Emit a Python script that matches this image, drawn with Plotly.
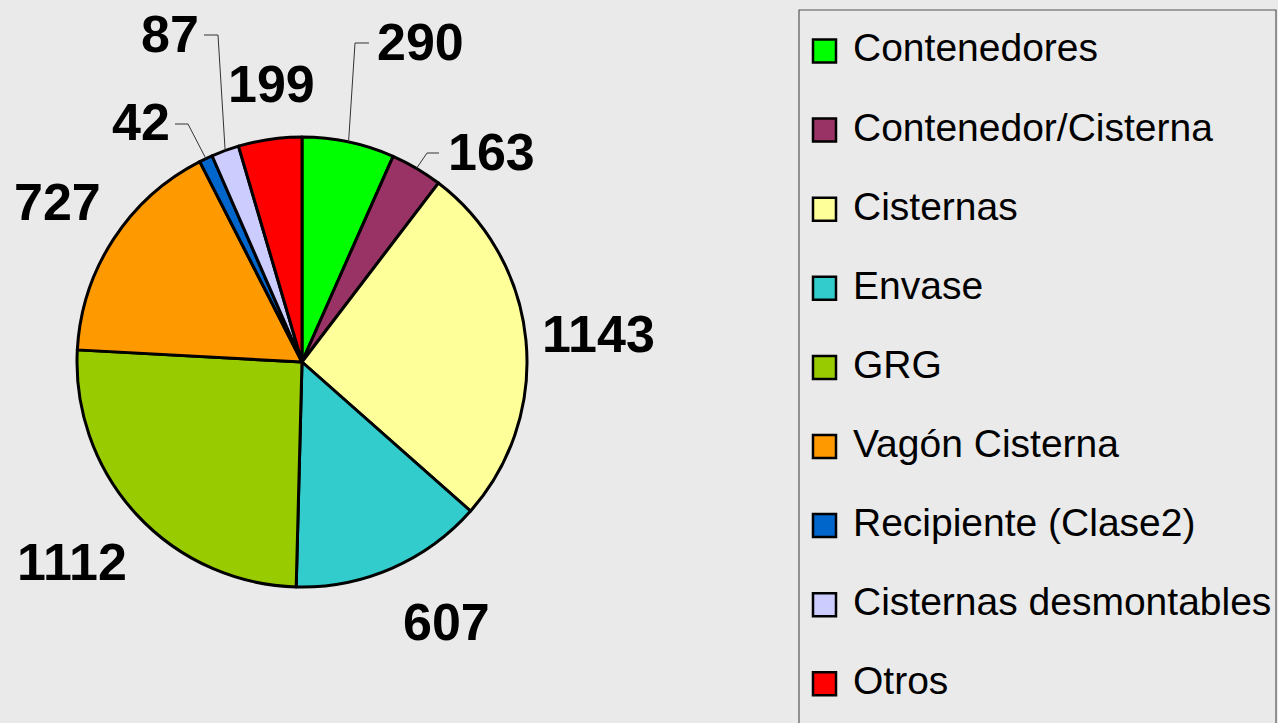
import plotly.graph_objects as go
import math

# ---- data ----
categories = ["Contenedores", "Contenedor/Cisterna", "Cisternas", "Envase", "GRG",
              "Vagón Cisterna", "Recipiente (Clase2)", "Cisternas desmontables", "Otros"]
values = [290, 163, 1143, 607, 1112, 727, 42, 87, 199]
colors = ["#00ff00", "#993366", "#ffff99", "#33cccc", "#99cc00",
          "#ff9900", "#0066cc", "#ccccff", "#ff0000"]

# ---- layout constants (pixels) ----
W, H = 1278, 723
BG = "#eaeaea"
CX, CY, R = 302, 362, 225

# label centres (pixels) for each value label
label_pos = [(420, 42), (491, 152), (598, 334), (446, 622), (72, 562),
             (57, 202), (141, 122), (170, 34), (271, 84)]
# leader bend/end points (pixels) for labels that have a leader line
leaders = {
    0: [(355, 43), (369, 43)],
    1: [(427, 153), (439, 153)],
    6: [(188, 124), (175, 124)],
    7: [(218, 35), (204, 35)],
}


def px(x):
    return x / W


def py(y):
    return 1 - y / H


fig = go.Figure()
fig.add_trace(go.Pie(
    labels=categories, values=values, sort=False, direction="clockwise", rotation=0,
    marker=dict(colors=colors, line=dict(color="#000000", width=3)),
    textinfo="none", hoverinfo="label+value", showlegend=False,
    domain=dict(x=[px(CX - R), px(CX + R)], y=[py(CY + R), py(CY - R)]),
))

shapes = []
annotations = []

# value labels
total = sum(values)
cum = 0
for i, v in enumerate(values):
    mid = (cum + v / 2) / total * 2 * math.pi
    cum += v
    lx, ly = label_pos[i]
    annotations.append(dict(
        x=px(lx), y=py(ly), xref="paper", yref="paper", text=f"<b>{v}</b>",
        showarrow=False, xanchor="center", yanchor="middle",
        font=dict(family="Liberation Sans, Arial, sans-serif", size=52, color="#000000"),
    ))
    if i in leaders:
        ex = CX + R * math.sin(mid)
        ey = CY - R * math.cos(mid)
        pts = [(ex, ey)] + leaders[i]
        path = "M " + " L ".join(f"{px(a):.5f},{py(b):.5f}" for a, b in pts)
        shapes.append(dict(type="path", xref="paper", yref="paper", path=path,
                           line=dict(color="#333333", width=1)))

# legend box
shapes.append(dict(type="rect", xref="paper", yref="paper",
                   x0=px(799), x1=px(1276), y0=py(740), y1=py(10),
                   line=dict(color="#555555", width=1.2), fillcolor="rgba(0,0,0,0)"))

# legend entries
for i, (cat, col) in enumerate(zip(categories, colors)):
    cy = 51 + i * 79.1
    shapes.append(dict(type="rect", xref="paper", yref="paper",
                       x0=px(813), x1=px(836), y0=py(cy + 11.5), y1=py(cy - 11.5),
                       fillcolor=col, line=dict(color="#000000", width=2.5)))
    annotations.append(dict(
        x=px(851), y=py(cy - 3), xref="paper", yref="paper", text=cat,
        showarrow=False, xanchor="left", yanchor="middle",
        font=dict(family="Liberation Sans, Arial, sans-serif", size=39, color="#000000"),
    ))

fig.update_layout(
    width=W, height=H, margin=dict(l=0, r=0, t=0, b=0),
    paper_bgcolor=BG, plot_bgcolor=BG,
    shapes=shapes, annotations=annotations, showlegend=False,
)

fig.write_html("out.html", config={"displayModeBar": False},
               post_script="document.body.style.margin='0';document.body.style.overflow='hidden';")
